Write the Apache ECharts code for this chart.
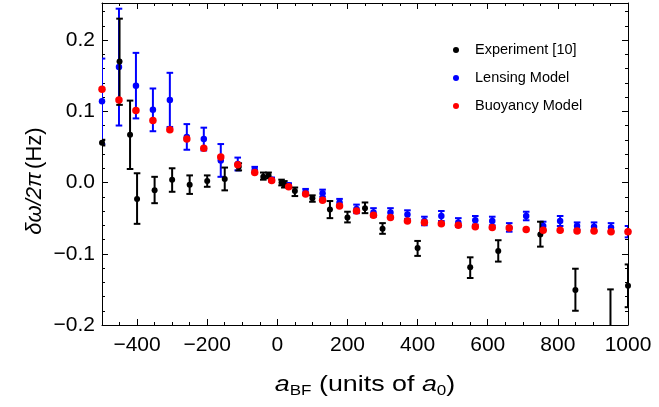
<!DOCTYPE html>
<html>
<head>
<meta charset="utf-8">
<script src="https://cdn.jsdelivr.net/npm/echarts@6/dist/echarts.min.js"></script>
<style>
  html, body { margin: 0; padding: 0; background: #fff; }
  #chart { width: 659px; height: 407px; }
</style>
</head>
<body>
<div id="chart"></div>
<script>
// experiment points (black) with error bar bounds
const expX  = [-500, -450, -420, -400, -350, -300, -250, -200, -150, -110, -40, -25, 12, 20, 50, 100, 150, 200, 250, 300, 400, 550, 630, 750, 850, 950, 1000];
const expY  = [0.056, 0.170, 0.067, -0.023, -0.011, 0.004, -0.003, 0.002, 0.005, 0.022, 0.008, 0.010, 0.000, -0.003, -0.012, -0.022, -0.038, -0.049, -0.036, -0.065, -0.092, -0.119, -0.096, -0.073, -0.151, -0.202, -0.145];
const expLo = [0.052, 0.109, 0.019, -0.058, -0.029, -0.013, -0.016, -0.006, -0.011, 0.017, 0.004, 0.006, -0.004, -0.007, -0.019, -0.027, -0.050, -0.056, -0.043, -0.072, -0.103, -0.134, -0.111, -0.090, -0.180, -0.250, -0.175];
const expHi = [0.060, 0.230, 0.115, 0.013, 0.008, 0.020, 0.010, 0.010, 0.021, 0.027, 0.014, 0.014, 0.004, 0.002, -0.007, -0.018, -0.026, -0.041, -0.028, -0.057, -0.082, -0.105, -0.081, -0.055, -0.121, -0.150, -0.115];

// model points share the same x positions
const modelX = [-500, -451.6, -403.2, -354.8, -306.5, -258.1, -209.7, -161.3, -112.9, -64.5, -16.1, 32.3, 80.6, 129.0, 177.4, 225.8, 274.2, 322.6, 371.0, 419.4, 467.7, 516.1, 564.5, 612.9, 661.3, 709.7, 758.1, 806.5, 854.8, 903.2, 951.6, 1000];
const lensY   = [0.114, 0.162, 0.136, 0.102, 0.116, 0.064, 0.061, 0.031, 0.026, 0.018, 0.004, -0.004, -0.013, -0.015, -0.028, -0.037, -0.042, -0.042, -0.045, -0.054, -0.047, -0.056, -0.053, -0.054, -0.063, -0.047, -0.061, -0.054, -0.061, -0.062, -0.063, -0.069];
const lensErr = [0.060, 0.082, 0.046, 0.030, 0.038, 0.018, 0.016, 0.023, 0.009, 0.004, 0.003, 0.003, 0.004, 0.005, 0.005, 0.006, 0.006, 0.006, 0.006, 0.006, 0.007, 0.006, 0.006, 0.006, 0.006, 0.006, 0.006, 0.007, 0.005, 0.006, 0.006, 0.008];
const buoyY   = [0.131, 0.116, 0.101, 0.087, 0.074, 0.061, 0.048, 0.036, 0.025, 0.014, 0.003, -0.006, -0.016, -0.025, -0.033, -0.040, -0.046, -0.049, -0.054, -0.056, -0.058, -0.060, -0.062, -0.063, -0.064, -0.066, -0.067, -0.067, -0.068, -0.068, -0.069, -0.069];

const xMajor = [-400, -200, 0, 200, 400, 600, 800, 1000];
const yMajor = [-0.2, -0.1, 0, 0.1, 0.2];

const FONT = '"Liberation Sans", Arial, sans-serif';

const chart = echarts.init(document.getElementById('chart'));

const errorBars = (color) => (params, api) => {
  const x = api.value(0);
  const lo = api.coord([x, api.value(1)]);
  const hi = api.coord([x, api.value(2)]);
  const w = 3.3;
  const st = { stroke: color, lineWidth: 2 };
  return {
    type: 'group',
    children: [
      { type: 'line', shape: { x1: lo[0], y1: lo[1], x2: hi[0], y2: hi[1] }, style: st },
      { type: 'line', shape: { x1: lo[0] - w, y1: lo[1], x2: lo[0] + w, y2: lo[1] }, style: st },
      { type: 'line', shape: { x1: hi[0] - w, y1: hi[1], x2: hi[0] + w, y2: hi[1] }, style: st }
    ]
  };
};

const frameLine = { show: true, onZero: false, lineStyle: { color: '#000', width: 1 } };
const noLine = { show: false, onZero: false };
const fmtY = (v) => (v < 0 ? '\u2212' : '') + Math.abs(v).toFixed(1);
const fmtX = (v) => (v < 0 ? '\u2212' : '') + Math.abs(v);

const xBase = { type: 'value', min: -500, max: 1000, splitLine: { show: false } };
const yBase = { type: 'value', min: -0.2, max: 0.252, splitLine: { show: false } };

const option = {
  animation: false,
  backgroundColor: '#fff',
  grid: { left: 102, right: 31, top: 3, bottom: 82, containLabel: false },
  legend: {
    orient: 'vertical', left: 448, top: 37, itemGap: 12,
    itemWidth: 28, itemHeight: 6, icon: 'circle',
    textStyle: { fontFamily: FONT, fontSize: 14.5, color: '#000', lineHeight: 16 },
    data: ['Experiment [10]', 'Lensing Model', 'Buoyancy Model']
  },
  xAxis: [
    Object.assign({}, xBase, { position: 'bottom', axisLine: frameLine,
      axisTick: { inside: true, length: 6, customValues: xMajor, lineStyle: { color: '#000' } },
      axisLabel: { customValues: xMajor, formatter: fmtX, margin: 10, color: '#000', fontFamily: FONT, fontSize: 21 } }),
    Object.assign({}, xBase, { position: 'bottom', interval: 50, axisLine: noLine,
      axisTick: { inside: true, length: 3, lineStyle: { color: '#000' } }, axisLabel: { show: false } }),
    Object.assign({}, xBase, { position: 'top', axisLine: frameLine,
      axisTick: { inside: true, length: 6, customValues: xMajor, lineStyle: { color: '#000' } }, axisLabel: { show: false } }),
    Object.assign({}, xBase, { position: 'top', interval: 50, axisLine: noLine,
      axisTick: { inside: true, length: 3, lineStyle: { color: '#000' } }, axisLabel: { show: false } })
  ],
  yAxis: [
    Object.assign({}, yBase, { position: 'left', axisLine: frameLine,
      axisTick: { inside: true, length: 6, customValues: yMajor, lineStyle: { color: '#000' } },
      axisLabel: { customValues: yMajor, formatter: fmtY, margin: 7, color: '#000', fontFamily: FONT, fontSize: 21 } }),
    Object.assign({}, yBase, { position: 'left', interval: 0.02, axisLine: noLine,
      axisTick: { inside: true, length: 3, lineStyle: { color: '#000' } }, axisLabel: { show: false } }),
    Object.assign({}, yBase, { position: 'right', axisLine: frameLine,
      axisTick: { inside: true, length: 6, customValues: yMajor, lineStyle: { color: '#000' } }, axisLabel: { show: false } }),
    Object.assign({}, yBase, { position: 'right', interval: 0.02, axisLine: noLine,
      axisTick: { inside: true, length: 3, lineStyle: { color: '#000' } }, axisLabel: { show: false } })
  ],
  graphic: [
    {
      type: 'text', x: 35, y: 181, rotation: Math.PI / 2,
      style: {
        text: '{g|δω/2π} {n|(Hz)}', align: 'center', verticalAlign: 'middle', fill: '#000',
        rich: {
          g: { fontFamily: FONT, fontSize: 22, fontStyle: 'italic', fill: '#000' },
          n: { fontFamily: FONT, fontSize: 22, fill: '#000' }
        }
      }
    },
    {
      type: 'text', x: 365, y: 385, scaleX: 1.22,
      style: {
        text: '{i|a}{s|BF}{n| (units of }{i|a}{s|0}{n|)}', align: 'center', verticalAlign: 'middle', fill: '#000',
        rich: {
          i: { fontFamily: FONT, fontSize: 22, fontStyle: 'italic', lineHeight: 27, fill: '#000' },
          n: { fontFamily: FONT, fontSize: 22, lineHeight: 27, fill: '#000' },
          s: { fontFamily: FONT, fontSize: 14, lineHeight: 27, verticalAlign: 'bottom', fill: '#000' }
        }
      }
    }
  ],
  series: [
    {
      name: 'lensBars', type: 'custom', clip: true, z: 2,
      renderItem: errorBars('#0000ff'),
      encode: { x: 0, y: [1, 2] },
      data: modelX.map((x, i) => [x, lensY[i] - lensErr[i], lensY[i] + lensErr[i]])
    },
    {
      name: 'Lensing Model', type: 'scatter', symbolSize: 6.5, z: 3,
      itemStyle: { color: '#0000ff', opacity: 1 },
      data: modelX.map((x, i) => [x, lensY[i]])
    },
    {
      name: 'expBars', type: 'custom', clip: true, z: 4,
      renderItem: errorBars('#000000'),
      encode: { x: 0, y: [1, 2] },
      data: expX.map((x, i) => [x, expLo[i], expHi[i]])
    },
    {
      name: 'Experiment [10]', type: 'scatter', symbolSize: 6, z: 5, clip: true,
      itemStyle: { color: '#000000', opacity: 1 },
      data: expX.map((x, i) => [x, expY[i]])
    },
    {
      name: 'Buoyancy Model', type: 'scatter', symbolSize: 7.5, z: 6,
      itemStyle: { color: '#ff0000', opacity: 1 },
      data: modelX.map((x, i) => [x, buoyY[i]])
    }
  ]
};

chart.setOption(option);
</script>
</body>
</html>
